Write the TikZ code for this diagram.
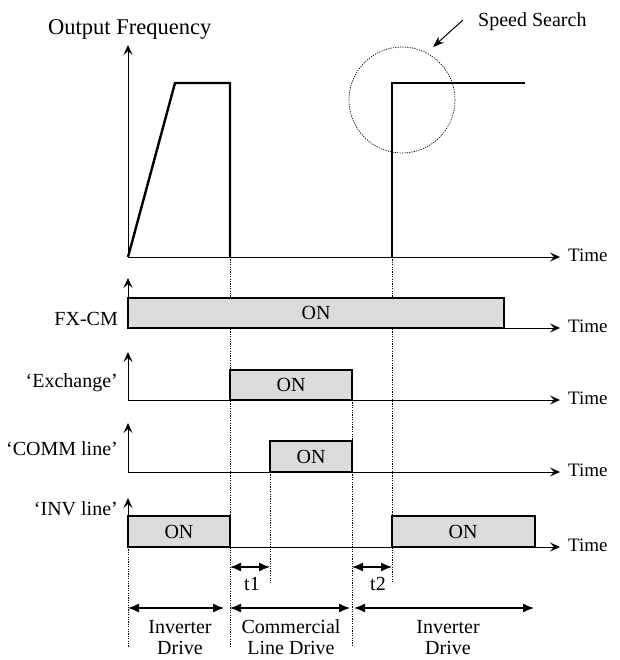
\documentclass[tikz,border=0pt]{standalone}
\usepackage{fontspec}
\setmainfont{Liberation Serif}
\usetikzlibrary{arrows.meta}
\begin{document}
\begin{tikzpicture}[x=1pt,y=-1pt,
  axis/.style={line width=0.9pt,-{Stealth[length=10pt,width=9pt,inset=4pt]}},
  sig/.style={draw,line width=1.1pt,fill=gray!28},
  prof/.style={line width=2.4pt},
  guide/.style={line width=0.7pt,dash pattern=on 1.2pt off 1.2pt},
  dim/.style={line width=1.3pt,{Latex[length=11pt,width=9pt]}-{Latex[length=11pt,width=9pt]}},
  lbl/.style={font=\fontsize{20}{25}\selectfont, inner sep=0pt},
  drv/.style={font=\fontsize{20}{21}\selectfont, inner sep=0pt, anchor=base, align=center},
  tlbl/.style={font=\fontsize{19}{23}\selectfont, inner sep=0pt, anchor=base west},
  ]
\useasboundingbox (0,0) rectangle (619,660);
% guide lines
\draw[guide] (230,257) -- (230,647);
\draw[guide] (392,257) -- (392,583);
\draw[guide] (352,400) -- (352,647);
\draw[guide] (270,472) -- (270,583);
\draw[guide] (128,547) -- (128,647);
\draw[guide] (402,100) circle[radius=53pt];
% frequency
\coordinate (o) at (128,257);
\node[lbl,font=\fontsize{22.5}{26}\selectfont,anchor=base west] (of) at (48,35) {Output Frequency};
\draw[axis] (o) -- (128,45) coordinate (ftop);
\draw[axis] (o) -- (560,257) coordinate (fend);
\node[tlbl] (t0) at (568,261) {Time};
\draw[prof] (o) -- (175,83) -- (230,83) -- (230,257);
\draw[prof] (392,257) -- (392,83) -- (525,83);
\node[lbl,anchor=base west] (ss) at (478,27) {Speed Search};
\coordinate (ssa) at (463,20);
\coordinate (ssb) at (433,47);
\draw[line width=1pt,-{Stealth[length=11pt,width=8pt]}] (ssa) -- (ssb);
% FX-CM
\draw[sig] (128,298) rectangle (504,328);
\node[lbl] (on1) at (316,313) {ON};
\draw[axis] (128,328) -- (128,278);
\draw[axis] (128,328) -- (560,328);
\node[lbl,anchor=base east] (l1) at (118,325) {FX-CM};
\node[tlbl] (t1x) at (568,332) {Time};
% Exchange
\draw[sig] (230,370) rectangle (352,400);
\node[lbl] (on2) at (291,385) {ON};
\draw[axis] (128,400) -- (128,352);
\draw[axis] (128,400) -- (560,400);
\node[lbl,anchor=base east] (l2) at (118,387) {‘Exchange’};
\node[tlbl] (t2x) at (568,404) {Time};
% COMM line
\draw[sig] (270,441) rectangle (352,472);
\node[lbl] (on3) at (311,456.5) {ON};
\draw[axis] (128,472) -- (128,423);
\draw[axis] (128,472) -- (560,472);
\node[lbl,anchor=base east] (l3) at (118,455) {‘COMM line’};
\node[tlbl] (t3x) at (568,476) {Time};
% INV line
\draw[sig] (128,516) rectangle (230,547);
\node[lbl] (on4) at (179,531.5) {ON};
\draw[sig] (392,516) rectangle (535,547);
\node[lbl] (on5) at (463,531.5) {ON};
\draw[axis] (128,547) -- (128,498);
\draw[axis] (128,547) -- (560,547);
\node[lbl,anchor=base east] (l4) at (118,515) {‘INV line’};
\node[tlbl] (t4x) at (568,551) {Time};
% dimensions
\coordinate (a1) at (230,567); \coordinate (b1) at (270,567);
\draw[dim] (a1) -- (b1);
\node[lbl,anchor=base] (tt1) at (252,590) {t1};
\coordinate (a2) at (352,567); \coordinate (b2) at (392,567);
\draw[dim] (a2) -- (b2);
\node[lbl,anchor=base] (tt2) at (378,590) {t2};
\coordinate (c1) at (128,608); \coordinate (c2) at (224,608);
\coordinate (c3) at (230,608); \coordinate (c4) at (350,608);
\coordinate (c5) at (354,608); \coordinate (c6) at (534,608);
\draw[dim] (c1) -- (c2);
\draw[dim] (c3) -- (c4);
\draw[dim] (c5) -- (c6);
\node[drv] (d1) at (180,654) {Inverter\\Drive};
\node[drv] (d2) at (291,654) {Commercial\\Line Drive};
\node[drv] (d3) at (448,654) {Inverter\\Drive};
\end{tikzpicture}
\end{document}
